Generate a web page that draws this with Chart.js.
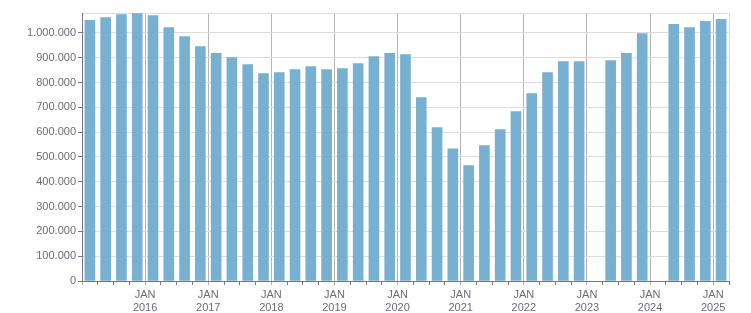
<!DOCTYPE html>
<html>
<head>
<meta charset="utf-8">
<script src="https://cdn.jsdelivr.net/npm/chart.js@4.4.1/dist/chart.umd.min.js"></script>
<style>
  html, body { margin: 0; padding: 0; background: #fff; }
  #wrap { width: 751px; height: 313px; }
</style>
</head>
<body>
<div id="wrap"><canvas id="myChart"></canvas></div>
<script>
// quarterly values, Q1 2015 .. Q1 2025 (null = no data)
const firstYear = 2015;
const quarters = [
  "2015 Q1", "2015 Q2", "2015 Q3", "2015 Q4",
  "2016 Q1", "2016 Q2", "2016 Q3", "2016 Q4",
  "2017 Q1", "2017 Q2", "2017 Q3", "2017 Q4",
  "2018 Q1", "2018 Q2", "2018 Q3", "2018 Q4",
  "2019 Q1", "2019 Q2", "2019 Q3", "2019 Q4",
  "2020 Q1", "2020 Q2", "2020 Q3", "2020 Q4",
  "2021 Q1", "2021 Q2", "2021 Q3", "2021 Q4",
  "2022 Q1", "2022 Q2", "2022 Q3", "2022 Q4",
  "2023 Q1", "2023 Q2", "2023 Q3", "2023 Q4",
  "2024 Q1", "2024 Q2", "2024 Q3", "2024 Q4",
  "2025 Q1",
];
const values = [
  1050000, 1062000, 1074000, 1078000,
  1070000, 1021000, 985000, 945000,
  917000, 900000, 872000, 836000,
  840000, 852000, 864000, 852000,
  856000, 876000, 904000, 917000,
  912000, 739000, 618000, 533000,
  465000, 546000, 610000, 683000,
  755000, 840000, 884000, 884000,
  null, 888000, 917000, 997000,
  null, 1034000, 1021000, 1046000,
  1054000,
];
const yTicks = [0, 100000, 200000, 300000, 400000, 500000, 600000, 700000, 800000, 900000, 1000000];
const yMax = 1080000;

const fmt = (v) => String(v).replace(/\B(?=(\d{3})+(?!\d))/g, ".");
const tickVal = (c) => (c && c.tick ? c.tick.value : null);

const points = values.map((v, i) => ({ x: i + 0.5, y: v }));

const ctx = document.getElementById("myChart").getContext("2d");
const myChart = new Chart(ctx, {
  type: "bar",
  data: {
    datasets: [
      {
        data: points,
        backgroundColor: "#78b0d1",
        barThickness: 10,
      },
    ],
  },
  options: {
    responsive: true,
    maintainAspectRatio: false,
    animation: false,
    layout: { padding: { top: 13, right: 22, left: 0, bottom: 0 } },
    plugins: { legend: { display: false }, tooltip: { enabled: false } },
    scales: {
      x: {
        type: "linear",
        offset: false,
        min: 0,
        max: quarters.length,
        afterBuildTicks: (axis) => {
          axis.ticks = quarters.map((q, i) => ({ value: i })).concat({ value: quarters.length });
        },
        afterFit: (axis) => { axis.height = 32; },
        border: { color: "#777777", width: 1 },
        grid: {
          offset: false,
          tickLength: 4,
          color: (c) => {
            const v = tickVal(c);
            if (v === null) return "#dcdcdc";
            if (v === quarters.length) return "#dcdcdc";
            if (v > 0 && v % 4 === 0) return "#b4b4b4";
            return "rgba(0,0,0,0)";
          },
          tickColor: (c) => {
            const v = tickVal(c);
            return v !== null && v % 4 === 0 ? "#b4b4b4" : "#777777";
          },
        },
        ticks: {
          autoSkip: false,
          maxRotation: 0,
          padding: 4,
          color: "#6b6b7b",
          font: { family: "Liberation Sans", size: 11, lineHeight: 1.15 },
          callback: (v) => {
            if (v > 0 && v < quarters.length && v % 4 === 0) return ["JAN", String(firstYear + v / 4)];
            return "";
          },
        },
      },
      y: {
        min: 0,
        max: yMax,
        afterBuildTicks: (axis) => {
          axis.ticks = yTicks.map((v) => ({ value: v })).concat({ value: yMax });
        },
        afterFit: (axis) => { axis.width = 82; },
        border: { color: "#777777", width: 1 },
        grid: {
          color: "#dcdcdc",
          tickLength: 4,
          tickColor: (c) => {
            const v = tickVal(c);
            return v !== null && v % 100000 === 0 ? "#777777" : "rgba(0,0,0,0)";
          },
        },
        ticks: {
          padding: 2,
          color: "#6b6b7b",
          font: { family: "Liberation Sans", size: 11 },
          callback: (v) => (v % 100000 === 0 ? fmt(v) : ""),
        },
      },
    },
  },
});
</script>
</body>
</html>
